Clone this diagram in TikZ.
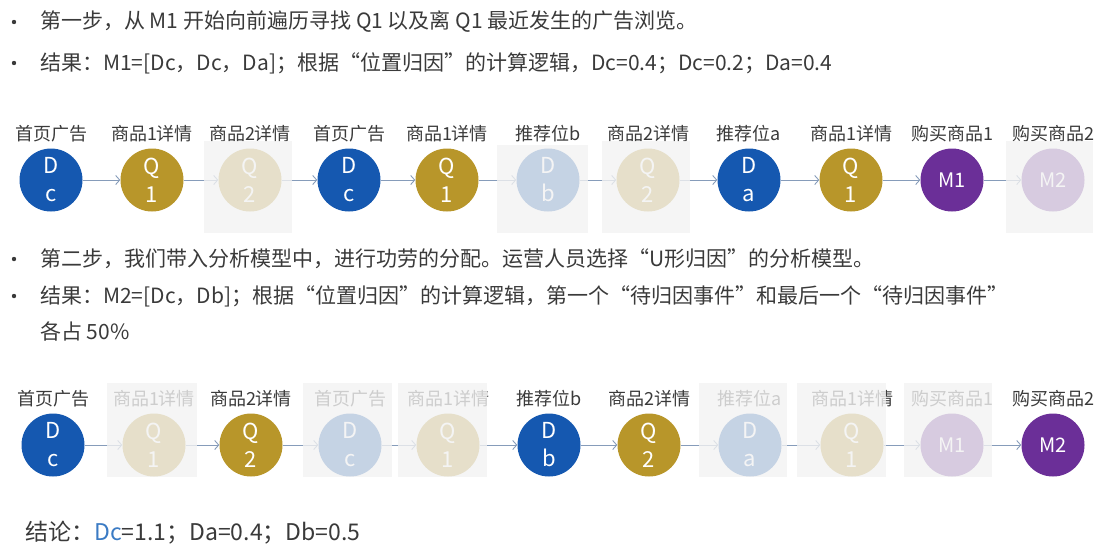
\documentclass[tikz,border=0pt]{standalone}
\usepackage{fontspec}
\setmainfont{Noto Sans CJK SC}
\usetikzlibrary{arrows.meta}

\definecolor{dblue}{HTML}{1558B0}
\definecolor{qgold}{HTML}{B8962A}
\definecolor{mpurple}{HTML}{6B2F98}
\definecolor{flowc}{HTML}{869CBA}
\definecolor{txt}{HTML}{3A3A3A}
\definecolor{veil}{HTML}{F2F2F2}
\definecolor{linkblue}{HTML}{3B7BC4}

\tikzset{
  evt/.style={circle, minimum size=63pt, inner sep=0pt, text=white, align=center,
    font=\fontsize{22}{28}\selectfont},
  dnode/.style={evt, fill=dblue},
  qnode/.style={evt, fill=qgold},
  mnode/.style={evt, fill=mpurple, font=\fontsize{20}{24}\selectfont},
  tag/.style={font=\fontsize{18}{20}\selectfont, text=txt, inner sep=0pt, label distance=6pt},
  flow/.style={draw=flowc, line width=0.9pt, -{Straight Barb[length=4pt,width=9pt]}},
  veilbox/.style={fill=veil, fill opacity=0.8, draw=none},
  bodytext/.style={anchor=west, font=\fontsize{21}{24}\selectfont, text=txt, inner sep=0pt},
}

\begin{document}
\begin{tikzpicture}[x=1pt, y=-1pt]
  \useasboundingbox (0,0) rectangle (1119,558);

  % step one
  \fill[txt] (14,22) circle (2.2pt);
  \node[bodytext] (s1) at (40,22) {第一步，从 M1 开始向前遍历寻找 Q1 以及离 Q1 最近发生的广告浏览。};
  \fill[txt] (14,63) circle (2.2pt);
  \node[bodytext] (s2) at (40,63) {结果：M1=[Dc，Dc，Da]；根据“位置归因”的计算逻辑，Dc=0.4；Dc=0.2；Da=0.4};

  % first path, ending in M1
  \node[dnode, label={[tag]above:首页广告}] (a1) at (51,180) {D\\c};
  \node[qnode, label={[tag]above:商品1详情}] (a2) at (152,180) {Q\\1};
  \node[qnode, label={[tag]above:商品2详情}] (a3) at (250,180) {Q\\2};
  \node[dnode, label={[tag]above:首页广告}] (a4) at (349,180) {D\\c};
  \node[qnode, label={[tag]above:商品1详情}] (a5) at (447,180) {Q\\1};
  \node[dnode, label={[tag]above:推荐位b}] (a6) at (548,180) {D\\b};
  \node[qnode, label={[tag]above:商品2详情}] (a7) at (648,180) {Q\\2};
  \node[dnode, label={[tag]above:推荐位a}] (a8) at (749,180) {D\\a};
  \node[qnode, label={[tag]above:商品1详情}] (a9) at (851,180) {Q\\1};
  \node[mnode, label={[tag]above:购买商品1}] (a10) at (952,180) {M1};
  \node[mnode, label={[tag]above:购买商品2}] (a11) at (1053,180) {M2};
  \draw[flow] (a1) -- (a2);
  \draw[flow] (a2) -- (a3);
  \draw[flow] (a3) -- (a4);
  \draw[flow] (a4) -- (a5);
  \draw[flow] (a5) -- (a6);
  \draw[flow] (a6) -- (a7);
  \draw[flow] (a7) -- (a8);
  \draw[flow] (a8) -- (a9);
  \draw[flow] (a9) -- (a10);
  \draw[flow] (a10) -- (a11);
  % dimmed steps
  \fill[veilbox] (204,141) rectangle (292,233);
  \fill[veilbox] (497,145) rectangle (588,233);
  \fill[veilbox] (602,141) rectangle (690,233);
  \fill[veilbox] (1006,141) rectangle (1093,233);

  % step two
  \fill[txt] (14,259) circle (2.2pt);
  \node[bodytext] (s3) at (40,259) {第二步，我们带入分析模型中，进行功劳的分配。运营人员选择“U形归因”的分析模型。};
  \fill[txt] (14,296) circle (2.2pt);
  \node[bodytext] (s4) at (40,296) {结果：M2=[Dc，Db]；根据“位置归因”的计算逻辑，第一个“待归因事件”和最后一个“待归因事件”};
  \node[bodytext] (s5) at (40,331) {各占 50\%};

  % second path, ending in M2
  \node[dnode, label={[tag]above:首页广告}] (b1) at (53,445) {D\\c};
  \node[qnode, label={[tag]above:商品1详情}] (b2) at (154,445) {Q\\1};
  \node[qnode, label={[tag]above:商品2详情}] (b3) at (251,445) {Q\\2};
  \node[dnode, label={[tag]above:首页广告}] (b4) at (350,445) {D\\c};
  \node[qnode, label={[tag]above:商品1详情}] (b5) at (448,445) {Q\\1};
  \node[dnode, label={[tag]above:推荐位b}] (b6) at (549,445) {D\\b};
  \node[qnode, label={[tag]above:商品2详情}] (b7) at (649,445) {Q\\2};
  \node[dnode, label={[tag]above:推荐位a}] (b8) at (750,445) {D\\a};
  \node[qnode, label={[tag]above:商品1详情}] (b9) at (852,445) {Q\\1};
  \node[mnode, label={[tag]above:购买商品1}] (b10) at (952,445) {M1};
  \node[mnode, label={[tag]above:购买商品2}] (b11) at (1053,445) {M2};
  \draw[flow] (b1) -- (b2);
  \draw[flow] (b2) -- (b3);
  \draw[flow] (b3) -- (b4);
  \draw[flow] (b4) -- (b5);
  \draw[flow] (b5) -- (b6);
  \draw[flow] (b6) -- (b7);
  \draw[flow] (b7) -- (b8);
  \draw[flow] (b8) -- (b9);
  \draw[flow] (b9) -- (b10);
  \draw[flow] (b10) -- (b11);
  % dimmed steps
  \fill[veilbox] (107,383) rectangle (197,477);
  \fill[veilbox] (303,383) rectangle (392,477);
  \fill[veilbox] (398,383) rectangle (487,477);
  \fill[veilbox] (699,383) rectangle (787,477);
  \fill[veilbox] (797,383) rectangle (886,477);
  \fill[veilbox] (904,383) rectangle (992,477);

  % conclusion
  \node[bodytext, font=\fontsize{23}{26}\selectfont] (res) at (25,533)
    {结论：\textcolor{linkblue}{Dc}=1.1；Da=0.4；Db=0.5};
\end{tikzpicture}
\end{document}
